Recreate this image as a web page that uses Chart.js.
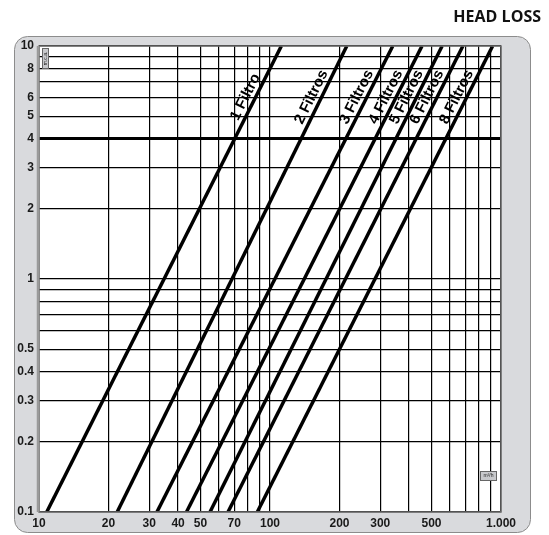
<!DOCTYPE html>
<html>
<head>
<meta charset="utf-8">
<script src="https://cdn.jsdelivr.net/npm/chart.js@4.4.1/dist/chart.umd.min.js"></script>
<style>
    html, body { margin: 0; padding: 0; background: #ffffff; }
    #wrap { width: 549px; height: 535px; }
</style>
</head>
<body>
<div id="wrap"><canvas id="headLoss" width="549" height="535"></canvas></div>
<script>
// filter curves: flow (m3/h) read where each line meets 0.1 and 10
const filterNames = ['1 Filtro', '2 Filtros', '3 Filtros', '4 Filtros', '5 Filtros', '6 Filtros', '8 Filtros'];
const flowAtLow = [10.8, 21.8, 32.4, 43.5, 55.0, 65.8, 88.1];
const flowAtHigh = [112, 215, 340, 455, 556, 684, 920];
const headLow = 0.1;
const headHigh = 10;

// grid lines and tick labels
const xGridValues = [10, 20, 30, 40, 50, 60, 70, 80, 90, 100, 200, 300, 400, 500, 600, 700, 800, 900, 1000];
const xLabelValues = [10, 20, 30, 40, 50, 70, 100, 200, 300, 500, 1000];
const yGridValues = [0.1, 0.2, 0.3, 0.4, 0.5, 0.6, 0.7, 0.8, 0.9, 1, 2, 3, 4, 5, 6, 7, 8, 9, 10];
const yLabelValues = [0.1, 0.2, 0.3, 0.4, 0.5, 1, 2, 3, 4, 5, 6, 8, 10];
const labelHead = 5.8; // where the rotated line names sit

let datasets = filterNames.map((name, i) => ({
    label: name,
    data: [{ x: flowAtLow[i], y: headLow }, { x: flowAtHigh[i], y: headHigh }],
    borderColor: '#000000',
    borderWidth: 3.5,
    pointRadius: 0,
    fill: false,
    tension: 0
}));

// grey rounded panel + white plot area
const panelPlugin = {
    id: 'panel',
    beforeDraw(chart) {
        let ctx = chart.ctx;
        let a = chart.chartArea;
        ctx.save();
        ctx.fillStyle = '#d9dadd';
        ctx.strokeStyle = '#8c8c8c';
        ctx.lineWidth = 1;
        ctx.beginPath();
        ctx.roundRect(14.5, 36.5, 516, 496, 13);
        ctx.fill();
        ctx.stroke();
        ctx.fillStyle = '#ffffff';
        ctx.fillRect(a.left, a.top, a.right - a.left, a.bottom - a.top);
        ctx.restore();
    },
    afterDraw(chart) {
        let ctx = chart.ctx;
        let a = chart.chartArea;
        let xs = chart.scales.x;
        let ys = chart.scales.y;
        ctx.save();
        // plot frame
        ctx.strokeStyle = '#6f6f6f';
        ctx.lineWidth = 1.5;
        ctx.strokeRect(a.left, a.top, a.right - a.left, a.bottom - a.top);
        ctx.strokeStyle = '#9a9a9a';
        ctx.lineWidth = 2.5;
        ctx.beginPath();
        ctx.moveTo(a.left - 1, a.top);
        ctx.lineTo(a.left - 1, a.bottom);
        ctx.stroke();

        // line names, rotated along each line
        ctx.fillStyle = '#000000';
        ctx.font = 'bold 15px "Liberation Sans", Arial, sans-serif';
        ctx.textAlign = 'center';
        ctx.textBaseline = 'alphabetic';
        let t = (Math.log10(labelHead) - Math.log10(headLow)) / (Math.log10(headHigh) - Math.log10(headLow));
        filterNames.forEach((name, i) => {
            let lx = Math.pow(10, Math.log10(flowAtLow[i]) + t * (Math.log10(flowAtHigh[i]) - Math.log10(flowAtLow[i])));
            let px = xs.getPixelForValue(lx);
            let py = ys.getPixelForValue(labelHead);
            let x0 = xs.getPixelForValue(flowAtLow[i]), y0 = ys.getPixelForValue(headLow);
            let x1 = xs.getPixelForValue(flowAtHigh[i]), y1 = ys.getPixelForValue(headHigh);
            let ang = Math.atan2(y1 - y0, x1 - x0);
            ctx.save();
            ctx.translate(px, py);
            ctx.rotate(ang);
            ctx.fillText(name, 0, -5);
            ctx.restore();
        });

        // small unit boxes
        ctx.fillStyle = '#c8c9cc';
        ctx.strokeStyle = '#666666';
        ctx.lineWidth = 1;
        ctx.fillRect(a.left + 3.5, a.top + 2.5, 6, 20);
        ctx.strokeRect(a.left + 3.5, a.top + 2.5, 6, 20);
        ctx.save();
        ctx.translate(a.left + 6.5, a.top + 12.5);
        ctx.rotate(-Math.PI / 2);
        ctx.fillStyle = '#222222';
        ctx.font = '5px "Liberation Sans", Arial, sans-serif';
        ctx.textAlign = 'center';
        ctx.textBaseline = 'middle';
        ctx.fillText('m.c.a.', 0, 0);
        ctx.restore();

        ctx.fillStyle = '#c8c9cc';
        ctx.fillRect(a.right - 20.5, a.bottom - 40.5, 16, 9);
        ctx.strokeRect(a.right - 20.5, a.bottom - 40.5, 16, 9);
        ctx.fillStyle = '#222222';
        ctx.font = '5px "Liberation Sans", Arial, sans-serif';
        ctx.textAlign = 'center';
        ctx.textBaseline = 'middle';
        ctx.fillText('m³/h', a.right - 12.5, a.bottom - 36);

        // heading
        ctx.fillStyle = '#111111';
        ctx.font = 'bold 16px "Open Sans", "Noto Sans", sans-serif';
        ctx.textAlign = 'right';
        ctx.textBaseline = 'middle';
        ctx.fillText('HEAD LOSS', 541, 17);
        ctx.restore();
    }
};

let ctxHead = document.getElementById('headLoss');
let headChart = new Chart(ctxHead, {
    type: 'line',
    data: { datasets: datasets },
    plugins: [panelPlugin],
    options: {
        responsive: false,
        animation: false,
        layout: {
            padding: { left: 0, right: 48, top: 46, bottom: 0 }
        },
        plugins: {
            legend: { display: false },
            tooltip: { enabled: false },
            title: { display: false }
        },
        scales: {
            x: {
                type: 'logarithmic',
                min: 10,
                max: 1000,
                afterBuildTicks: scale => { scale.ticks = xGridValues.map(v => ({ value: v })); },
                afterFit: scale => { scale.height = 23; },
                border: { display: false },
                grid: {
                    color: '#000000',
                    lineWidth: 1.2,
                    drawTicks: false
                },
                ticks: {
                    autoSkip: false,
                    maxRotation: 0,
                    padding: 4,
                    color: '#1a1a1a',
                    font: { family: '"Liberation Sans", Arial, sans-serif', size: 12, weight: 'bold' },
                    callback: v => xLabelValues.includes(v) ? (v === 1000 ? '1.000' : String(v)) : ''
                }
            },
            y: {
                type: 'logarithmic',
                min: 0.1,
                max: 10,
                afterBuildTicks: scale => { scale.ticks = yGridValues.map(v => ({ value: v })); },
                afterFit: scale => { scale.width = 39; },
                border: { display: false },
                grid: {
                    color: '#000000',
                    lineWidth: c => (c.tick && c.tick.value === 4) ? 3 : 1.2,
                    drawTicks: false
                },
                ticks: {
                    autoSkip: false,
                    padding: 5,
                    color: '#1a1a1a',
                    font: { family: '"Liberation Sans", Arial, sans-serif', size: 12, weight: 'bold' },
                    callback: v => yLabelValues.includes(v) ? String(v) : ''
                }
            }
        }
    }
});
</script>
</body>
</html>
